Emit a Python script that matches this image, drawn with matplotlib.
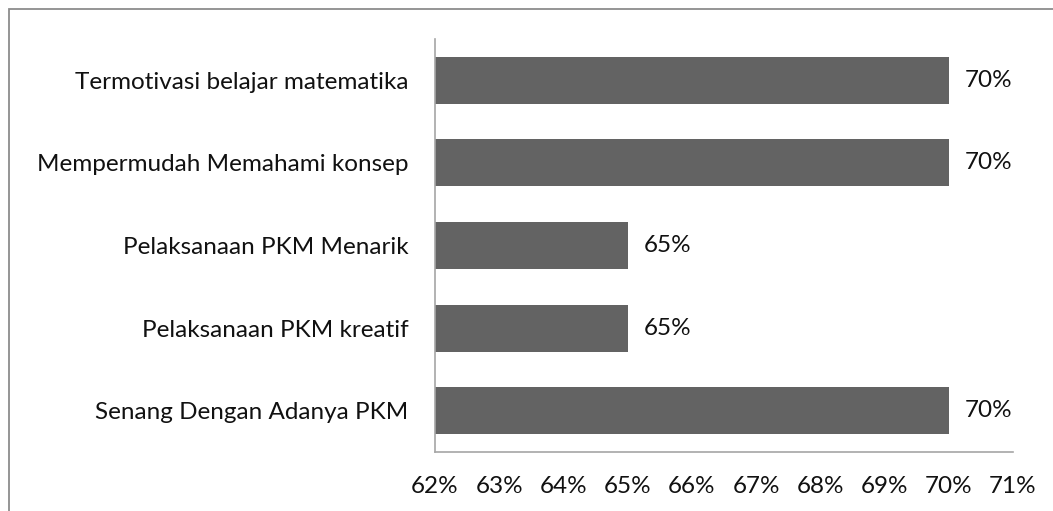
import matplotlib.pyplot as plt
from matplotlib.patches import Rectangle

# Données
kategori = ['Senang Dengan Adanya PKM', 'Pelaksanaan PKM kreatif', 'Pelaksanaan PKM Menarik',
            'Mempermudah Memahami konsep', 'Termotivasi belajar matematika']
nilai = [70, 65, 65, 70, 70]
ticks_x = [62, 63, 64, 65, 66, 67, 68, 69, 70, 71]

plt.rcParams['font.family'] = ['Lato', 'DejaVu Sans']

W, H = 1053, 511
fig = plt.figure(figsize=(W / 100, H / 100), dpi=100)

# Cadre gris autour du graphique (coupé à droite et en bas)
fig.patches.append(Rectangle((9 / W, -0.1), 1.2, 1 - 9 / H + 0.1, transform=fig.transFigure,
                             fill=False, edgecolor='#8c8c8c', linewidth=1.3))

ax = fig.add_axes([435 / W, 1 - 452 / H, (1013 - 435) / W, (452 - 39) / H])
ax.barh(range(len(kategori)), nilai, height=0.57, color='#636363', left=0)
ax.set_xlim(62, 71)
ax.set_ylim(-0.5, 4.5)

taille = 17.5
for i, v in enumerate(nilai):
    ax.text(v + 0.25, i, f'{v}%', va='center', ha='left', fontsize=taille, color='#111111')

ax.set_yticks(range(len(kategori)))
ax.set_yticklabels(kategori, fontsize=taille, color='#111111')
ax.set_xticks(ticks_x)
ax.set_xticklabels([f'{t}%' for t in ticks_x], fontsize=taille, color='#111111')
ax.tick_params(axis='y', length=0, pad=19)
ax.tick_params(axis='x', length=0, pad=17)

for s in ['top', 'right']:
    ax.spines[s].set_visible(False)
for s in ['left', 'bottom']:
    ax.spines[s].set_color('#a6a6a6')
    ax.spines[s].set_linewidth(1.2)

fig.savefig('out.png', dpi=100)
